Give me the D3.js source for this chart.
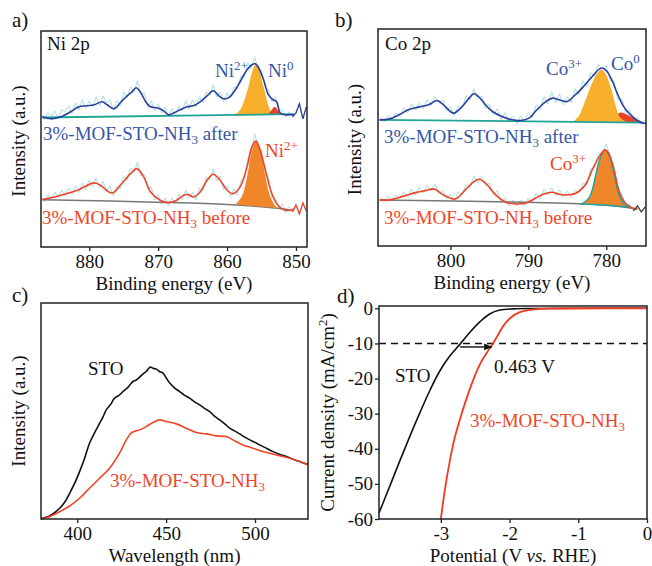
<!DOCTYPE html>
<html>
<head>
<meta charset="utf-8">
<script src="https://cdn.jsdelivr.net/npm/d3@7"></script>
<style>
body { margin: 0; background: #fff; }
</style>
</head>
<body>
<div id="fig"></div>
<script>
// ---------- data ----------
// a) Ni 2p XPS, raw counts on a 0.5 eV grid (887 -> 848.5)
let niGrid = d3.range(887, 848.25, -0.5);
let niAfterRaw = [133,127,134,131,136,128,137,135,141,133,144,137,147,139,146,140,150,141,151,144,147,136,146,141,155,149,160,155,166,152,154,139,146,136,143,134,140,131,138,132,141,136,146,138,147,140,150,144,155,151,162,150,155,145,154,149,160,158,171,170,184,178,190,177,176,160,157,145,150,136,137,130,135,130,134,143,128,140];
let niBeforeRaw = [50,45,52,48,55,49,57,51,59,53,61,55,64,57,67,60,69,59,66,55,61,51,60,58,71,67,79,74,85,71,72,58,60,47,52,43,49,41,49,43,53,47,57,49,55,47,59,56,70,67,78,66,71,57,61,50,58,52,66,68,88,94,113,101,97,77,70,50,50,38,43,34,40,35,42,33,44,36];
// fitted envelopes [eV, intensity]
let niAfterFit = [[886.8,130],[885.6,128],[884.1,130],[882.7,135],[881.5,140],[880.3,141],[879.3,142],[878.1,145],[877.4,142],[876.4,138],[875.5,144],[874.5,151],[873.8,155],[873.2,159],[872.6,155],[871.8,145],[871.1,140],[870.2,139],[869.2,136],[868.5,132],[867.7,134],[866.8,137],[865.8,140],[864.9,141],[863.9,145],[862.9,151],[862.0,156],[861.2,151],[860.5,148],[859.6,150],[858.8,157],[858.1,165],[857.1,177],[856.4,182],[855.9,183],[855.5,180],[854.7,167],[854.0,152],[853.3,147],[852.8,145],[852.3,134],[851.6,132],[850.9,132],[850.3,132]];
let niBeforeFit = [[886.8,47.3],[884.1,51.7],[881.7,56.7],[879.3,64],[878.4,61.7],[876.7,54],[875.5,61.7],[874.0,73.3],[873.1,78.3],[872.1,70],[871.1,55],[869.7,46.7],[868.5,44.3],[867.3,46.7],[866.3,51.7],[865.6,52.3],[864.9,50],[863.9,55],[862.9,66.7],[862.0,72.7],[861.0,66.7],[860.0,56.7],[859.1,53.3],[858.1,60],[857.1,80],[856.4,100],[855.8,105.7],[855.2,96.7],[854.2,70],[853.5,53.3],[852.8,43.3],[851.8,37.3],[850.9,36.7],[850.3,38]];
let niAfterBase = [[886.8,129.3],[850.3,132.7]];
let niBeforeBase = [[886.8,47.3],[869,44.5],[860,42.5],[856,40.8],[853,39],[851,37]];
// peak components [eV, top, bottom]
let niAfterNi2 = [[859.1,131,131],[858.1,137,131],[857.1,155,131.5],[856.4,174,131.5],[855.9,182,131.5],[855.5,179,131.5],[854.7,160,131.5],[854.0,141,131.7],[853.5,134,131.7],[853.0,131.7,131.7]];
let niAfterNi0 = [[854.2,131.7,131.7],[853.6,136,131.7],[853.1,140,131.7],[852.7,137,131.8],[852.1,131.8,131.8]];
let niBeforeNi2 = [[858.8,42.5,42.5],[857.9,50,42],[857.1,70,41.5],[856.4,96,41],[855.8,105,40.8],[855.2,97,40.5],[854.5,73,40],[853.8,52,39.5],[853.0,41,39],[852.6,38.7,38.7]];

// b) Co 2p XPS, raw counts on a 0.5 eV grid (809 -> 775)
let coGrid = d3.range(809, 774.75, -0.5);
let coAfterRaw = [129,124,130,126,133,129,138,133,142,136,143,137,146,140,149,143,146,135,139,130,140,137,150,146,157,147,150,137,142,131,137,126,133,124,130,122,130,124,133,128,141,136,149,142,154,143,152,141,149,143,157,151,165,159,173,169,182,174,180,165,165,146,147,133,136,125,129,121,126];
let coBeforeRaw = [49,44,50,45,51,47,54,49,57,51,59,53,61,55,62,52,56,47,52,45,54,51,61,58,70,63,70,60,63,51,55,43,48,40,46,40,46,40,48,43,53,47,57,51,58,50,56,49,55,49,56,53,63,61,77,78,93,91,102,89,80,56,52,40,42,35,40,34,39];
let coAfterFit = [[809.1,126],[807.9,126.7],[806.6,131],[805.4,136],[804.1,138.7],[802.8,141],[801.7,145.3],[800.9,141],[799.6,132.7],[798.5,139.3],[797.6,147.7],[797.0,152],[796.4,149.3],[795.5,141],[794.6,134.3],[793.4,129.3],[792.1,126],[791.0,125.3],[789.9,127.7],[789.1,134.3],[788.0,142.7],[786.9,147.7],[786.1,146],[785.0,144.3],[784.2,149.3],[783.1,157.7],[781.8,169.3],[780.9,176.7],[780.5,177.7],[779.9,174.3],[779.2,164.3],[778.6,152.7],[777.9,141],[777.1,132.7],[776.0,125.3],[775.2,122.7],[774.9,122.7]];
let coBeforeFit = [[809.1,46],[807.9,46],[806.2,49.3],[804.5,53.3],[803.2,55.3],[802.1,57],[800.9,51],[799.4,47],[798.1,56],[797.0,64.3],[796.3,66.7],[795.5,62.7],[794.2,51],[792.9,43.7],[791.6,42],[790.4,42.7],[789.1,47.7],[788.0,52],[786.9,53.7],[786.1,51.7],[785.2,51],[783.9,52.7],[782.7,61],[781.8,76],[780.9,89.3],[780.2,96],[779.7,92.7],[779.0,76],[778.4,56],[777.7,44.3],[776.9,38.7],[776.0,36.7]];
let coAfterBase = [[809.1,126],[775.4,123.3]];
let coBeforeBase = [[809.1,46],[782.7,42],[778,39.3],[776,36.7]];
let coAfterCo3 = [[784.2,124.5,124.5],[783.5,130,124.3],[782.7,145,124.2],[781.8,163,124],[781.2,172,124],[780.6,176,124],[780.1,172,123.9],[779.4,158,123.8],[778.8,140,123.8],[778.2,128,123.7],[777.3,123.6,123.6]];
let coAfterCo0 = [[779.7,123.8,123.8],[779.0,128,123.8],[778.2,133.3,123.7],[777.3,131,123.6],[776.4,127,123.5],[775.8,123.4,123.4]];
let coBeforeCo3 = [[783.1,42,42],[782.2,48,41.8],[781.6,62,41.5],[780.9,85,41.2],[780.2,96,41],[779.6,90,40.7],[779.0,72,40.3],[778.4,52,39.8],[777.7,42,39.3],[776.9,38.7,38.7]];

// c) PL spectra [wavelength nm, intensity]
let plSTO = [[379.6,0],[382,1.5],[384.4,3],[387,6],[390.1,10.7],[393,17],[395.7,25.7],[398.5,35.5],[401.3,47.3],[404,60],[406.9,75.7],[409.7,86],[412.6,95.7],[414.5,102],[416.3,109],[418.6,114],[421.0,120.7],[423.5,123.5],[425.7,127.3],[428.5,131.5],[431.3,137.3],[433,138.5],[435.1,141.7],[437,145],[438.8,147.3],[440,150],[441.1,151.7],[442.6,150.5],[444.5,149.7],[446,147.5],[448.2,145.7],[450,141],[452.0,135.7],[455,130.5],[457.6,127.3],[460,124],[463.2,120.7],[466,117],[468.8,114],[472,110],[474.5,107.3],[477,103],[480.1,99],[483,95],[485.7,90.7],[488.5,88],[491.4,85],[494,82],[497.0,79],[500,76.5],[502.6,74],[506,71],[510.1,67.3],[514,64.5],[517.6,62.3],[521,60],[525.1,57.3],[528,55.5],[529.8,55]];
let plMOF = [[379.6,0],[384.4,2.3],[390.1,7.3],[395.7,13],[401.3,20.7],[406.9,30.7],[412.6,40.7],[418.2,50.7],[423.8,65.7],[427.6,79],[430.4,86],[433,88],[435.1,89],[438.8,92.3],[442.6,96.3],[446.3,99],[450.1,97.3],[455.7,95],[461.3,90.7],[467.0,86.3],[472.6,85],[478.2,83],[483.9,82.3],[487.6,79],[493.2,74],[498.9,70.7],[504.5,67.3],[512.0,64],[519.5,60.7],[525.1,57.3],[529.8,54]];

// d) LSV curves [potential V vs RHE, current density mA/cm2]
let lsvSTO = [[-3.9,-58.3],[-3.75,-51],[-3.60,-43.6],[-3.45,-36.4],[-3.30,-29.5],[-3.16,-23.4],[-3.02,-18.0],[-2.87,-13.6],[-2.72,-10.2],[-2.58,-6.9],[-2.43,-3.8],[-2.29,-1.6],[-2.14,-0.5],[-1.94,-0.15],[-1.70,-0.05],[0,0]];
let lsvMOF = [[-3.0,-60],[-2.94,-51.5],[-2.87,-43.5],[-2.80,-37],[-2.72,-31.5],[-2.64,-26.5],[-2.56,-22],[-2.48,-18],[-2.40,-14.8],[-2.33,-12.6],[-2.26,-10.6],[-2.18,-8],[-2.09,-5],[-1.98,-2.6],[-1.85,-1.1],[-1.65,-0.3],[-1.3,-0.05],[0,0]];
let lsvGap = [-2.72, -2.26];   // 0.463 V shift read at -10 mA/cm2

// tick values
let niTicks = [880, 870, 860, 850];
let coTicks = [800, 790, 780];
let plTicks = [400, 450, 500];
let lsvXTicks = [-3, -2, -1, 0];
let lsvYTicks = [0, -10, -20, -30, -40, -50, -60];

// ---------- colours ----------
let blue = '#2d3f9a', blueText = '#3556a6', red = '#f04428';
let rawCol = '#a9dde0', teal = '#1fa597', gold = '#f8b02c', darkOrange = '#f0862a', peakRed = '#e9412a';
let serif = '"Liberation Serif"';
let fs = 19;
let titleGap = 43;   // frame bottom -> axis title baseline

let svg = d3.select('#fig').append('svg')
    .attr('width', 652)
    .attr('height', 566);

svg.append('defs').append('marker')
    .attr('id', 'arrow')
    .attr('viewBox', '0 0 10 10')
    .attr('refX', 9).attr('refY', 5)
    .attr('markerWidth', 6).attr('markerHeight', 6)
    .attr('orient', 'auto')
    .append('path')
    .attr('d', 'M0,1 L10,5 L0,9 Z')
    .attr('fill', '#111');

// text with sup / sub parts
function richText(g, x, y, parts, color, size) {
    size = size || fs;
    let t = g.append('text').attr('x', x).attr('y', y)
        .attr('fill', color).style('font-size', size + 'px');
    let shift = 0;
    parts.forEach(p => {
        let off = p[1] === 'sup' ? -7 : p[1] === 'sub' ? 4 : 0;
        let span = t.append('tspan').text(p[0]).attr('dy', off - shift);
        if (p[1] === 'sup' || p[1] === 'sub') span.style('font-size', (size * 0.68) + 'px');
        if (p[1] === 'it') span.style('font-style', 'italic');
        shift = off;
    });
    return t;
}

function frame(box) {
    svg.append('rect')
        .attr('x', box.x0).attr('y', box.y0)
        .attr('width', box.x1 - box.x0).attr('height', box.y1 - box.y0)
        .attr('fill', 'none').attr('stroke', '#222').attr('stroke-width', 1.5);
}

function bottomAxis(x, box, ticks) {
    let ax = svg.append('g')
        .attr('transform', `translate(0,${box.y1})`)
        .call(d3.axisBottom(x).tickValues(ticks).tickSize(4).tickPadding(4).tickFormat(d => String(d)));
    ax.select('.domain').remove();
    ax.selectAll('line').attr('stroke', '#222').attr('stroke-width', 1.3);
    ax.selectAll('text').style('font-size', fs + 'px').attr('fill', '#111');
    return ax;
}

function yTitle(x, y, parts) {
    let g = svg.append('g').attr('transform', `translate(${x},${y}) rotate(-90)`);
    richText(g, 0, 0, parts, '#111').attr('text-anchor', 'middle');
}

function lineOf(x, y) {
    return d3.line().x(d => x(d[0])).y(d => y(d[1])).curve(d3.curveCatmullRom.alpha(0.5));
}

function fillOf(x, y) {
    return d3.area().x(d => x(d[0])).y0(d => y(d[2])).y1(d => y(d[1])).curve(d3.curveCatmullRom.alpha(0.5));
}

function zip(grid, vals) {
    return vals.map((v, i) => [grid[i], v]);
}

// ---------- XPS panel ----------
function xpsPanel(cfg) {
    let box = cfg.box;
    let x = d3.scaleLinear().domain(cfg.xDomain).range([box.x0, box.x1]);
    let y = d3.scaleLinear().domain([0, cfg.yMax]).range([box.y1, box.y0]);
    let g = svg.append('g');
    let line = lineOf(x, y);
    let raw = d3.line().x(d => x(d[0])).y(d => y(d[1]));

    let afterRaw = zip(cfg.grid, cfg.afterRaw);
    let beforeRaw = zip(cfg.grid, cfg.beforeRaw);

    // raw spectra
    g.append('path').attr('d', raw(afterRaw)).attr('fill', 'none').attr('stroke', rawCol).attr('stroke-width', 1);
    g.append('path').attr('d', raw(beforeRaw)).attr('fill', 'none').attr('stroke', rawCol).attr('stroke-width', 1);

    // backgrounds
    g.append('path').attr('d', line(cfg.beforeBase)).attr('fill', 'none').attr('stroke', '#777').attr('stroke-width', 1.5);

    // fitted components
    cfg.fills.forEach(f => {
        g.append('path').attr('d', fillOf(x, y)(f.data)).attr('fill', f.color)
            .attr('stroke', f.stroke || 'none').attr('stroke-width', 1.5);
    });

    g.append('path').attr('d', line(cfg.afterBase)).attr('fill', 'none').attr('stroke', teal).attr('stroke-width', 1.8);

    // envelopes
    g.append('path').attr('d', line(cfg.afterFit)).attr('fill', 'none').attr('stroke', blue).attr('stroke-width', 1.6);
    g.append('path').attr('d', line(cfg.beforeFit)).attr('fill', 'none').attr('stroke', red).attr('stroke-width', 1.6);

    // raw tails outside the fit window
    let tail = cfg.tailFrom;
    g.append('path').attr('d', raw(afterRaw.filter(d => d[0] <= tail.after))).attr('fill', 'none').attr('stroke', blue).attr('stroke-width', 1.3);
    g.append('path').attr('d', raw(beforeRaw.filter(d => d[0] <= tail.before))).attr('fill', 'none').attr('stroke', tail.beforeColor).attr('stroke-width', 1.3);

    frame(box);
    bottomAxis(x, box, cfg.ticks);
    svg.append('text').attr('x', (box.x0 + box.x1) / 2).attr('y', box.y1 + titleGap)
        .attr('text-anchor', 'middle').style('font-size', fs + 'px').attr('fill', '#111')
        .text('Binding energy (eV)');
    yTitle(cfg.yTitleX, (box.y0 + box.y1) / 2 + 2, [['Intensity (a.u.)']]);
    return g;
}

// a) Ni 2p
let gA = xpsPanel({
    box: {x0: 41, x1: 307, y0: 31, y1: 247},
    xDomain: [887, 848.4], yMax: 215.7,
    grid: niGrid, afterRaw: niAfterRaw, beforeRaw: niBeforeRaw,
    afterFit: niAfterFit, beforeFit: niBeforeFit,
    afterBase: niAfterBase, beforeBase: niBeforeBase,
    fills: [
        {data: niAfterNi2, color: gold},
        {data: niAfterNi0, color: peakRed},
        {data: niBeforeNi2, color: darkOrange}
    ],
    tailFrom: {after: 850.5, before: 850.5, beforeColor: red},
    ticks: niTicks, yTitleX: 25
});
richText(gA, 47, 50, [['Ni 2p']], '#111');
richText(gA, 215, 77, [['Ni'], ['2+', 'sup']], blueText);
richText(gA, 268, 77, [['Ni'], ['0', 'sup']], blueText);
richText(gA, 43, 140, [['3%-MOF-STO-NH'], ['3', 'sub'], [' after']], blueText);
richText(gA, 265, 157, [['Ni'], ['2+', 'sup']], red);
richText(gA, 42, 224, [['3%-MOF-STO-NH'], ['3', 'sub'], [' before']], red);

// b) Co 2p
let gB = xpsPanel({
    box: {x0: 378, x1: 646, y0: 29, y1: 246},
    xDomain: [809.3, 774.9], yMax: 216.7,
    grid: coGrid, afterRaw: coAfterRaw, beforeRaw: coBeforeRaw,
    afterFit: coAfterFit, beforeFit: coBeforeFit,
    afterBase: coAfterBase, beforeBase: coBeforeBase,
    fills: [
        {data: coAfterCo0, color: peakRed},
        {data: coAfterCo3, color: gold},
        {data: coBeforeCo3, color: darkOrange, stroke: teal}
    ],
    tailFrom: {after: 774, before: 776.5, beforeColor: '#444'},
    ticks: coTicks, yTitleX: 361
});
richText(gB, 385, 50, [['Co 2p']], '#111');
richText(gB, 546, 75, [['Co'], ['3+', 'sup']], blueText);
richText(gB, 611, 70, [['Co'], ['0', 'sup']], blueText);
richText(gB, 384, 143, [['3%-MOF-STO-NH'], ['3', 'sub'], [' after']], blueText);
richText(gB, 550, 170, [['Co'], ['3+', 'sup']], red);
richText(gB, 384, 224, [['3%-MOF-STO-NH'], ['3', 'sub'], [' before']], red);

// c) PL
let boxC = {x0: 41, x1: 308, y0: 303, y1: 519};
let xC = d3.scaleLinear().domain([379.6, 529.8]).range([boxC.x0, boxC.x1]);
let yC = d3.scaleLinear().domain([0, 215.7]).range([boxC.y1, boxC.y0]);
let lineC = d3.line().x(d => xC(d[0])).y(d => yC(d[1])).curve(d3.curveCatmullRom.alpha(0.5));
svg.append('path').attr('d', lineC(plSTO)).attr('fill', 'none').attr('stroke', '#111').attr('stroke-width', 1.6);
svg.append('path').attr('d', lineC(plMOF)).attr('fill', 'none').attr('stroke', red).attr('stroke-width', 1.6);
frame(boxC);
bottomAxis(xC, boxC, plTicks);
svg.append('text').attr('x', (boxC.x0 + boxC.x1) / 2).attr('y', boxC.y1 + titleGap)
    .attr('text-anchor', 'middle').style('font-size', fs + 'px').attr('fill', '#111')
    .text('Wavelength (nm)');
yTitle(25, (boxC.y0 + boxC.y1) / 2, [['Intensity (a.u.)']]);
richText(svg, 88, 375, [['STO']], '#111');
richText(svg, 110, 487, [['3%-MOF-STO-NH'], ['3', 'sub']], red);

// d) LSV
let boxD = {x0: 379, x1: 647, y0: 306, y1: 519};
let xD = d3.scaleLinear().domain([-3.9, 0]).range([boxD.x0, boxD.x1]);
let yD = d3.scaleLinear().domain([-60, 0.66]).range([boxD.y1, boxD.y0]);
let lineD = d3.line().x(d => xD(d[0])).y(d => yD(d[1])).curve(d3.curveCatmullRom.alpha(0.5));
svg.append('line')
    .attr('x1', boxD.x0).attr('x2', boxD.x1)
    .attr('y1', yD(-10)).attr('y2', yD(-10))
    .attr('stroke', '#111').attr('stroke-width', 1.4).attr('stroke-dasharray', '7,5');
svg.append('path').attr('d', lineD(lsvSTO)).attr('fill', 'none').attr('stroke', '#111').attr('stroke-width', 1.6);
svg.append('path').attr('d', lineD(lsvMOF)).attr('fill', 'none').attr('stroke', '#f23a22').attr('stroke-width', 1.8);
svg.append('line')
    .attr('x1', xD(lsvGap[0])).attr('x2', xD(lsvGap[1]))
    .attr('y1', yD(-11)).attr('y2', yD(-11))
    .attr('stroke', '#111').attr('stroke-width', 1.4).attr('marker-end', 'url(#arrow)');
frame(boxD);
bottomAxis(xD, boxD, lsvXTicks);
let axD = svg.append('g')
    .attr('transform', `translate(${boxD.x0},0)`)
    .call(d3.axisLeft(yD).tickValues(lsvYTicks).tickSize(4).tickPadding(2).tickFormat(d => String(d)));
axD.select('.domain').remove();
axD.selectAll('line').attr('stroke', '#222').attr('stroke-width', 1.3);
axD.selectAll('text').style('font-size', fs + 'px').attr('fill', '#111');
richText(svg, (boxD.x0 + boxD.x1) / 2, boxD.y1 + titleGap,
    [['Potential (V '], ['vs.', 'it'], [' RHE)']], '#111').attr('text-anchor', 'middle');
yTitle(334, (boxD.y0 + boxD.y1) / 2, [['Current density (mA/cm'], ['2', 'sup'], [')']]);
richText(svg, 395, 382, [['STO']], '#111');
richText(svg, 494, 373, [['0.463 V']], '#111');
richText(svg, 470, 427, [['3%-MOF-STO-NH'], ['3', 'sub']], red);

// panel letters
richText(svg, 12, 27, [['a)']], '#111', 21);
richText(svg, 335, 27, [['b)']], '#111', 21);
richText(svg, 12, 302, [['c)']], '#111', 21);
richText(svg, 337, 303, [['d)']], '#111', 21);

// serif everywhere
svg.selectAll('text').style('font-family', serif);
</script>
</body>
</html>
